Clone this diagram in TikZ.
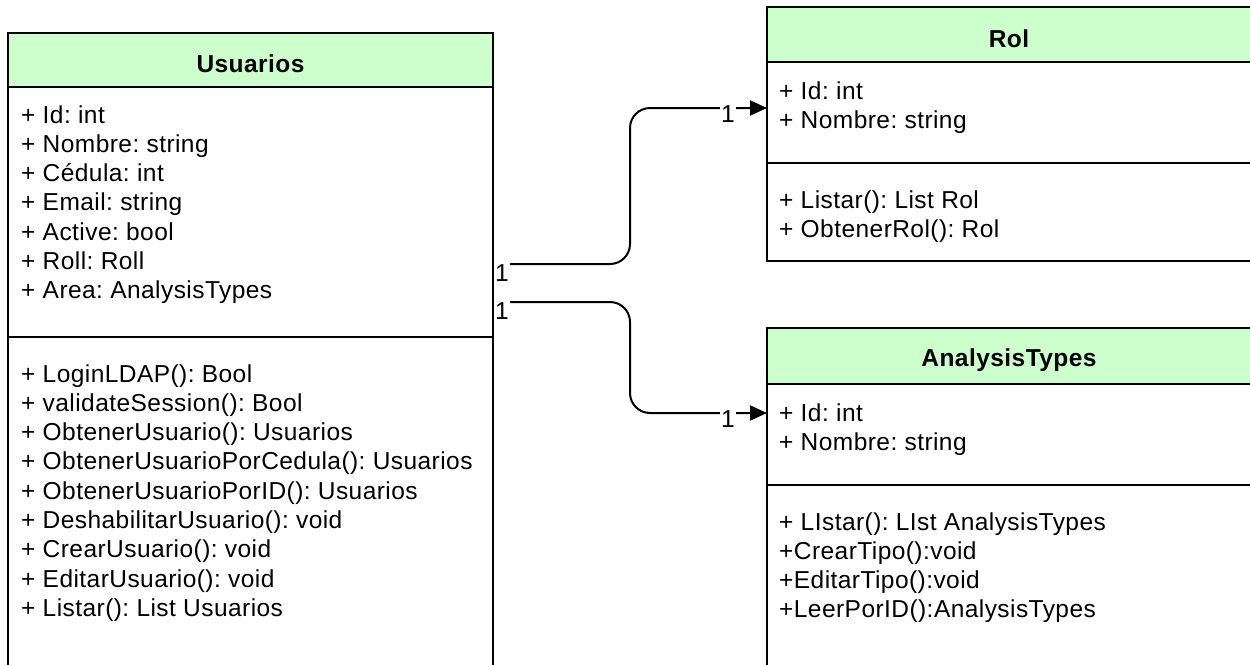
\documentclass[tikz,border=0pt]{standalone}
\usepackage{fontspec}
\setmainfont[LetterSpace=1.8]{Liberation Sans}
\usetikzlibrary{arrows.meta}
\frenchspacing

\definecolor{hdr}{HTML}{CCFFCC}

\tikzset{
  box/.style={draw=black, line width=2pt, outer sep=0pt, fill=white},
  head/.style={draw=black, line width=2pt, outer sep=0pt, fill=hdr},
  member/.style={anchor=base west, inner sep=0pt, font=\fontsize{24.5}{29}\selectfont},
  classname/.style={anchor=base, inner sep=0pt, font=\fontsize{24.5}{29}\selectfont\bfseries},
  mult/.style={fill=white, inner xsep=1.5pt, inner ysep=5pt, font=\fontsize{24.5}{29}\selectfont},
  assoc/.style={line width=2pt, rounded corners=20pt, -{Triangle[length=17pt,width=15pt]}},
  divider/.style={line width=2pt},
}

\begin{document}
\begin{tikzpicture}[x=1pt, y=-1pt]
\clip (0,0) rectangle (1250,664);

% ---- class Usuarios ----
\node[box, anchor=north west, minimum width=485pt, minimum height=680pt] (usr) at (8,33) {};
\node[head, anchor=north west, minimum width=485pt, minimum height=54pt] (usrh) at (8,33) {};
\node[classname] (usrt) at (250.5,72) {Usuarios};
\draw[divider] (8,337) -- (493,337);
\foreach \t [count=\i from 0] in {{+ Id: int},{+ Nombre: string},{+ Cédula: int},{+ Email: string},{+ Active: bool},{+ Roll: Roll},{+ Area: AnalysisTypes}}
  \node[member] (ua\i) at (21,{123+29.3*\i}) {\t};
\foreach \t [count=\i from 0] in {{+ LoginLDAP(): Bool},{+ validateSession(): Bool},{+ ObtenerUsuario(): Usuarios},{+ ObtenerUsuarioPorCedula(): Usuarios},{+ ObtenerUsuarioPorID(): Usuarios},{+ DeshabilitarUsuario(): void},{+ CrearUsuario(): void},{+ EditarUsuario(): void},{+ Listar(): List Usuarios}}
  \node[member] (um\i) at (21,{382+29.3*\i}) {\t};

% ---- class Rol ----
\node[box, anchor=north west, minimum width=484pt, minimum height=254pt] (rol) at (767,7) {};
\node[head, anchor=north west, minimum width=484pt, minimum height=55pt] (rolh) at (767,7) {};
\node[classname] (rolt) at (1009,47) {Rol};
\draw[divider] (767,163) -- (1251,163);
\foreach \t [count=\i from 0] in {{+ Id: int},{+ Nombre: string}}
  \node[member] (ra\i) at (779,{99+29.3*\i}) {\t};
\foreach \t [count=\i from 0] in {{+ Listar(): List Rol},{+ ObtenerRol(): Rol}}
  \node[member] (rm\i) at (779,{208+29.3*\i}) {\t};

% ---- class AnalysisTypes ----
\node[box, anchor=north west, minimum width=484pt, minimum height=380pt] (at) at (767,328) {};
\node[head, anchor=north west, minimum width=484pt, minimum height=56pt] (ath) at (767,328) {};
\node[classname] (att) at (1009,366) {AnalysisTypes};
\draw[divider] (767,485) -- (1251,485);
\foreach \t [count=\i from 0] in {{+ Id: int},{+ Nombre: string}}
  \node[member] (aa\i) at (779,{421+29.3*\i}) {\t};
\foreach \t [count=\i from 0] in {{+ LIstar(): LIst AnalysisTypes},{+CrearTipo():void},{+EditarTipo():void},{+LeerPorID():AnalysisTypes}}
  \node[member] (am\i) at (779,{530+29.3*\i}) {\t};

% ---- associations ----
\draw[assoc] (usr.east |- 0,264) -- (630,264) -- (630,108) -- (rol.west |- 0,108);
\draw[assoc] (usr.east |- 0,302) -- (630,302) -- (630,413) -- (at.west |- 0,413);

% multiplicities
\node[mult] (m1s) at (502,273) {1};
\node[mult] (m1t) at (728,114) {1};
\node[mult] (m2s) at (502,311) {1};
\node[mult] (m2t) at (728,419) {1};
\end{tikzpicture}
\end{document}
